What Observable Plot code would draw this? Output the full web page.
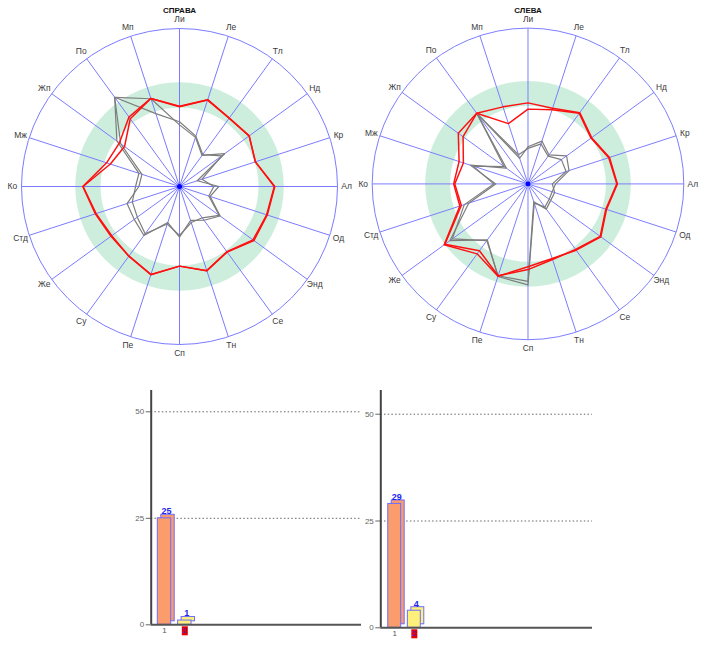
<!DOCTYPE html>
<html>
<head>
<meta charset="utf-8">
<script src="https://cdn.jsdelivr.net/npm/d3@7"></script>
<script src="https://cdn.jsdelivr.net/npm/@observablehq/plot@0.6"></script>
<style>
  body { margin: 0; background: #fff; font-family: "Liberation Sans", Arial, sans-serif; }
  #wrap { position: relative; width: 705px; height: 664px; overflow: hidden; background: #fff; }
  #wrap > div { position: absolute; }
  svg { overflow: visible; font-family: "Liberation Sans", Arial, sans-serif; }
</style>
</head>
<body>
<div id="wrap"></div>
<script>
// ---------- DATA ----------
const categories = ["Ли","Ле","Тл","Нд","Кр","Ал","Од","Энд","Се","Тн","Сп","Пе","Су","Же","Стд","Ко","Мж","Жп","По","Мп"];
const titles = ["СПРАВА", "СЛЕВА"];

// СПРАВА (left radar)
const spravaRed1  = [50.8, 57.8, 53.5, 54.5, 50.5, 60.3, 58.4, 58.2, 51.3, 56.0, 50.4, 58.7, 54.5, 53.6, 56.0, 61.2, 48.5, 47.0, 54.4, 58.6];
const spravaRed2  = [50.5, 57.5, 53.5, 54.5, 50.5, 60.0, 58.0, 57.5, 51.0, 56.0, 50.4, 58.5, 54.5, 53.0, 55.5, 61.0, 46.0, 43.0, 53.0, 58.6];
const spravaGrey1 = [39.0, 32.7, 24.3, 35.3, 11.8, 24.9, 20.4, 31.8, 26.4, 22.6, 32.0, 24.0, 38.3, 35.4, 34.9, 25.7, 25.0, 46.0, 69.8, 58.4];
const spravaGrey2 = [41.0, 33.5, 25.0, 33.0, 15.0, 21.7, 19.5, 31.0, 24.5, 24.0, 31.0, 25.0, 37.0, 33.0, 31.4, 27.8, 27.0, 49.0, 69.8, 48.5];

// СЛЕВА (right radar)
const slevaRed1  = [52.0, 51.0, 56.5, 50.5, 55.0, 57.4, 53.0, 57.8, 52.6, 50.3, 53.2, 62.3, 55.5, 66.5, 46.0, 47.7, 46.5, 55.3, 56.0, 52.0];
const slevaRed2  = [48.0, 50.0, 56.0, 50.0, 54.5, 57.0, 52.5, 57.3, 52.0, 51.0, 55.0, 62.0, 53.0, 66.0, 45.0, 47.0, 43.6, 51.5, 56.0, 40.7];
const slevaGrey1 = [23.8, 28.9, 23.0, 30.6, 27.7, 17.7, 16.3, 16.8, 18.4, 13.0, 64.8, 62.5, 44.4, 62.0, 40.0, 20.7, 39.0, 17.2, 55.5, 17.3];
const slevaGrey2 = [22.8, 27.0, 22.0, 26.5, 25.7, 15.6, 18.0, 18.0, 20.0, 12.0, 62.6, 62.0, 45.0, 60.0, 43.0, 22.0, 37.0, 19.0, 55.5, 19.7];

// reference band (norm zone) and outer circle
const bandInner = 50;
const bandOuter = 66;
const radarMax = 100;

// bar charts
const barCategories = [1, 2];
const spravaBars = [25, 1];
const slevaBars = [29, 4];
const yTicks = [0, 25, 50];

// ---------- STYLES ----------
const SPOKE = "#7b7bff";
const BAND = "#cdeedd";
const RED = "#ff1010";
const GREY = "#7d7d7d";
const barFills = ["#fa9c6c", "#fff07a"];
const barStroke = "#6c6cff";

// ---------- RADAR ----------
function radar(title, series) {
  const n = categories.length;
  const ang = i => i * 2 * Math.PI / n;
  const px = 1.58;
  const W = 360, H = 372;
  const hx = W / 2 / px, hy = H / 2 / px;
  const spokes = categories.map((c, i) => ({c, i}));
  const rows = series.flatMap(s => s.values.map((v, i) => ({name: s.name, kind: s.kind, i, v})));
  const X = d => d.v * Math.sin(ang(d.i));
  const Y = d => d.v * Math.cos(ang(d.i));
  const zero = () => 0;
  return Plot.plot({
    width: W, height: H, margin: 0,
    x: {domain: [-hx, hx], axis: null},
    y: {domain: [-hy, hy], axis: null},
    r: {type: "linear", domain: [0, radarMax], range: [0, radarMax * px]},
    marks: [
      Plot.dot([bandOuter], {x: zero, y: zero, r: d => d, fill: BAND}),
      Plot.dot([bandInner], {x: zero, y: zero, r: d => d, fill: "white"}),
      Plot.link(spokes, {x1: zero, y1: zero,
        x2: d => radarMax * Math.sin(ang(d.i)), y2: d => radarMax * Math.cos(ang(d.i)),
        stroke: SPOKE, strokeWidth: 1}),
      Plot.dot([radarMax], {x: zero, y: zero, r: d => d, stroke: SPOKE, strokeWidth: 1, fill: "none"}),
      Plot.line(rows.filter(d => d.kind === "grey"), {x: X, y: Y, z: "name", stroke: GREY, strokeWidth: 1.2, curve: "linear-closed"}),
      Plot.line(rows.filter(d => d.kind === "red"), {x: X, y: Y, z: "name", stroke: RED, strokeWidth: 1.5, curve: "linear-closed"}),
      Plot.dot([0], {x: zero, y: zero, r: 2.5, fill: "#0000ff"}),
      Plot.text(spokes, {x: d => 105.8 * Math.sin(ang(d.i)), y: d => 105.8 * Math.cos(ang(d.i)),
        text: "c", fontSize: 8.5, fill: "#3a3a3a"}),
      Plot.text([title], {frameAnchor: "top", lineAnchor: "middle", dy: 10, fontWeight: "bold", fontSize: 8, fill: "#111"})
    ]
  });
}

// ---------- BARS ----------
const rectSymbol = {draw(context) { context.rect(-3, -4.5, 6, 9); }};
function bars(values, cfg) {
  const data = barCategories.map((k, i) => ({k, v: values[i], fill: barFills[i]}));
  const half = 0.33;
  const common = {x1: d => d.k - half, x2: d => d.k + half, y: "v", fill: "fill", stroke: barStroke, strokeWidth: 1};
  return Plot.plot({
    width: cfg.width, height: cfg.height,
    marginLeft: cfg.ml, marginRight: cfg.mr, marginTop: cfg.mt, marginBottom: cfg.mb,
    x: {domain: cfg.xd, axis: null},
    y: {domain: cfg.yd},
    color: {type: "identity"},
    marks: [
      Plot.ruleY(yTicks.filter(t => t > 0), {stroke: "#666", strokeDasharray: "1.5,2.2"}),
      Plot.axisY({ticks: yTicks, tickSize: 5, tickPadding: 2, fontSize: 8, color: "#666", label: null}),
      Plot.rectY(data, {...common, dx: 3.5, dy: -3.5}),
      Plot.rectY(data, common),
      Plot.ruleX([cfg.xd[0]], {stroke: "#444", strokeWidth: 2}),
      Plot.ruleY([0], {stroke: "#555", strokeWidth: 2}),
      Plot.text(data, {x: "k", y: "v", text: d => String(d.v), dy: -7, dx: 2, fill: "#2525ee", fontWeight: "bold", fontSize: 9}),
      Plot.dot(data.filter(d => d.k === 2), {x: "k", y: () => 0, dy: 6, symbol: rectSymbol, fill: "#e40000", r: 4}),
      Plot.text(data, {x: "k", y: () => 0, dy: 6, text: d => String(d.k), fill: d => d.k === 2 ? "#4a22c8" : "#555", fontSize: 8})
    ]
  });
}

// ---------- LAYOUT ----------
const wrap = document.getElementById("wrap");
function place(node, left, top) {
  const div = document.createElement("div");
  div.style.left = left + "px";
  div.style.top = top + "px";
  div.appendChild(node);
  wrap.appendChild(div);
}

place(radar(titles[0], [
  {name: "g1", kind: "grey", values: spravaGrey1},
  {name: "g2", kind: "grey", values: spravaGrey2},
  {name: "r1", kind: "red", values: spravaRed1},
  {name: "r2", kind: "red", values: spravaRed2}
]), -1.3, 0);

place(radar(titles[1], [
  {name: "g1", kind: "grey", values: slevaGrey1},
  {name: "g2", kind: "grey", values: slevaGrey2},
  {name: "r1", kind: "red", values: slevaRed1},
  {name: "r2", kind: "red", values: slevaRed2}
]), 350, 0);

place(bars(spravaBars, {width: 245, height: 260, ml: 30.7, mr: 4, mt: 10, mb: 15.7,
  xd: [0.345, 10.7], yd: [0, 55]}), 120, 380);

place(bars(slevaBars, {width: 246, height: 263, ml: 30.3, mr: 4, mt: 10, mb: 15.7,
  xd: [0.29, 11.09], yd: [0, 55.55]}), 350, 380);
</script>
</body>
</html>
